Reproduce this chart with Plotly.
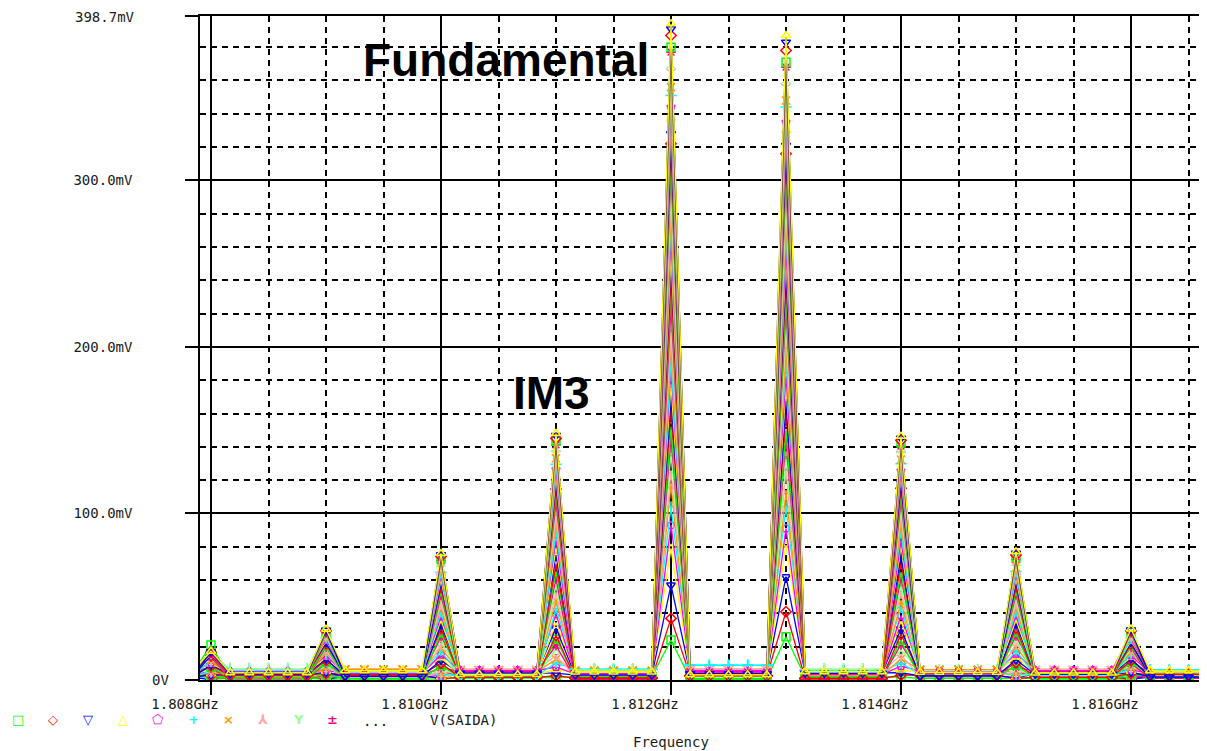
import plotly.graph_objects as go

# ---------------- data (values in mV / MHz) ----------------
PEAK_FREQ_MHZ = [1808, 1809, 1810, 1811, 1812, 1813, 1814, 1815, 1816]
BINS_PER_MHZ = 6  # FFT resolution: 1/6 MHz

# peak amplitude of each of the 44 swept traces at each tone (mV)
AMP_1808 = [0.2, 0.3, 0.4, 0.5, 0.7, 0.9, 1.1, 1.4, 1.7, 2.0,
            2.4, 2.8, 3.2, 3.7, 4.2, 4.7, 5.3, 5.9, 6.5, 7.1,
            7.8, 8.5, 9.1, 9.8, 10.5, 11.2, 11.8, 12.5, 13.1, 13.8,
            14.9, 14.6, 15.0, 15.3, 15.6, 15.8, 16.0, 16.1, 16.3, 16.4,
            21.0, 16.6, 16.9, 17.3]
AMP_1809 = [0.3, 0.4, 0.6, 0.8, 1.1, 1.3, 1.7, 2.0, 2.5, 2.9,
            3.3, 4.1, 4.5, 5.3, 5.8, 6.7, 7.3, 8.3, 8.9, 10.0,
            10.7, 11.8, 12.6, 13.7, 14.5, 15.7, 16.5, 17.7, 18.5, 19.7,
            20.4, 21.7, 22.4, 23.5, 24.2, 25.3, 25.9, 26.9, 27.4, 28.3,
            28.7, 29.5, 29.8, 30.5]
AMP_1810 = [0.5, 0.8, 1.2, 1.8, 2.5, 3.2, 4.1, 5.0, 6.2, 7.4,
            8.7, 10.1, 11.8, 13.4, 15.2, 17.3, 19.2, 21.5, 23.6, 26.1,
            28.3, 30.9, 33.2, 35.8, 38.4, 40.7, 43.5, 45.8, 48.6, 50.9,
            53.5, 55.7, 58.2, 60.3, 62.6, 64.5, 66.7, 68.3, 70.2, 71.6,
            73.0, 74.2, 75.2, 76.0]
AMP_1811 = [1.5, 2.6, 4.1, 6.3, 7.8, 10.2, 12.5, 14.6, 18.3, 20.7,
            24.4, 26.8, 31.2, 34.6, 39.5, 42.8, 47.6, 51.9, 56.3, 60.8,
            65.4, 69.7, 75.2, 79.6, 84.3, 88.7, 94.1, 97.8, 103.2, 106.5,
            111.4, 114.7, 119.3, 122.5, 126.4, 129.6, 133.2, 135.8, 138.9, 141.2,
            143.4, 145.1, 146.8, 148.0]
AMP_1812 = [24, 37, 57, 79, 93, 104, 117, 125, 136, 146,
            152, 163, 170, 178, 187, 192, 203, 208, 219, 224,
            235, 240, 251, 256, 266, 274, 280, 291, 296, 307,
            312, 322, 328, 337, 344, 351, 356, 365, 369, 377,
            380, 387, 391, 394]
AMP_1813 = [26, 41, 62, 81, 91, 104, 113, 125, 132, 144,
            150, 161, 167, 177, 183, 192, 198, 208, 214, 223,
            229, 239, 245, 254, 260, 270, 276, 285, 291, 301,
            306, 316, 321, 330, 335, 344, 348, 356, 360, 368,
            371, 378, 383, 387]
AMP_1814 = [1.8, 2.9, 4.4, 6.0, 8.3, 9.9, 12.8, 15.1, 17.6, 21.4,
            23.8, 27.5, 30.6, 35.3, 38.7, 43.6, 46.9, 52.4, 55.7, 61.5,
            64.8, 70.3, 74.6, 80.2, 83.7, 89.1, 93.5, 98.4, 102.3, 107.1,
            110.6, 115.2, 118.4, 122.9, 125.6, 129.8, 132.4, 135.6, 138.1, 140.5,
            142.3, 144.0, 145.2, 146.3]
AMP_1815 = [0.6, 0.9, 1.4, 1.9, 2.7, 3.4, 4.3, 5.3, 6.4, 7.7,
            9.0, 10.5, 12.1, 13.8, 15.7, 17.6, 19.7, 21.8, 24.1, 26.4,
            28.8, 31.2, 33.7, 36.1, 38.6, 41.2, 43.7, 46.2, 48.8, 51.3,
            53.7, 56.1, 58.5, 60.8, 63.0, 65.1, 67.2, 69.0, 70.8, 72.3,
            73.8, 75.0, 76.1, 77.0]
AMP_1816 = [0.3, 0.5, 0.6, 0.9, 1.0, 1.4, 1.6, 2.1, 2.4, 3.0,
            3.4, 4.0, 4.7, 5.2, 6.0, 6.6, 7.5, 8.2, 9.1, 9.9,
            10.9, 11.7, 12.8, 13.6, 14.7, 15.6, 16.7, 17.6, 18.7, 19.6,
            20.7, 21.6, 22.6, 23.4, 24.4, 25.2, 26.1, 26.8, 27.6, 28.2,
            28.9, 29.4, 30.0, 30.6]

# noise-floor level (mV) of each trace colour in each gap between tones
FLOOR_GREEN = [3.5, 1.2, 0.8, 1.5, 2.0, 0.6, 1.8, 1.0, 0.9, 2.2]
FLOOR_RED = [2.0, 2.8, 3.2, 1.6, 1.1, 2.5, 0.9, 2.9, 1.7, 3.4]
FLOOR_BLUE = [1.4, 3.6, 2.2, 4.1, 2.9, 3.8, 4.0, 2.4, 3.5, 1.8]
FLOOR_YELLOW = [5.2, 4.3, 5.6, 3.3, 4.8, 3.1, 5.0, 4.6, 4.2, 5.5]
FLOOR_MAGENTA = [4.4, 5.1, 3.8, 5.7, 3.6, 5.4, 3.4, 5.3, 5.8, 4.1]
FLOOR_CYAN = [2.7, 5.8, 4.6, 2.6, 6.4, 8.8, 5.7, 3.5, 2.8, 6.0]
FLOOR_ORANGE = [6.0, 2.0, 6.3, 4.9, 5.5, 4.4, 2.6, 6.1, 4.9, 3.9]
FLOOR_PINK = [4.8, 3.9, 1.6, 6.4, 2.4, 6.6, 4.7, 1.9, 6.4, 2.9]
FLOOR_LTGREEN = [3.1, 6.5, 4.9, 3.0, 6.0, 1.9, 6.3, 5.6, 2.3, 4.8]
FLOOR_DEEPPINK = [5.7, 0.9, 2.7, 5.0, 0.7, 4.7, 1.4, 4.1, 5.2, 1.2]

X_TICK_VALS = [1808, 1810, 1812, 1814, 1816]
X_TICK_TEXT = ["1.808GHz", "1.810GHz", "1.812GHz", "1.814GHz", "1.816GHz"]
Y_TICK_VALS = [0, 100, 200, 300, 398.7]
Y_TICK_TEXT = ["0V", "100.0mV", "200.0mV", "300.0mV", "398.7mV"]
LEGEND_SYMBOL_TEXT = ["\u25a1", "\u25c7", "\u25bd", "\u25b3", "\u2b20", "+", "\u00d7", "\u2144", "Y", "\u00b1"]

# ---------------- styling ----------------
COLORS = ["#00ff00", "#ff0000", "#0000ff", "#ffff00", "#ff00ff",
          "#00ffff", "#ff9900", "#ffaaaa", "#99ff99", "#ff0088"]
SYMBOLS = ["square-open", "diamond-open", "triangle-down-open", "triangle-up-open",
           "pentagon-open", "cross-thin-open", "x-thin-open", "y-down-open",
           "y-up-open", "asterisk-open"]
FLOORS = [FLOOR_GREEN, FLOOR_RED, FLOOR_BLUE, FLOOR_YELLOW, FLOOR_MAGENTA,
          FLOOR_CYAN, FLOOR_ORANGE, FLOOR_PINK, FLOOR_LTGREEN, FLOOR_DEEPPINK]
PEAK_AMPS = [AMP_1808, AMP_1809, AMP_1810, AMP_1811, AMP_1812,
             AMP_1813, AMP_1814, AMP_1815, AMP_1816]

N_TRACES = len(AMP_1812)

# the page body has an 8px margin: work in screen pixels, shift by OFF
OFF = 8
W, H = 1207, 751
PLOT_L, PLOT_R, PLOT_T, PLOT_B = 200, 1203, 16, 680   # screen px of plot area
L = PLOT_L - OFF
T = PLOT_T - OFF
R = (W + OFF) - PLOT_R
B = (H + OFF) - PLOT_B
PW, PH = PLOT_R - PLOT_L, PLOT_B - PLOT_T
PX_PER_MHZ = 115.0
X_1808_PX = 211


def px_x(p):
    return (p - PLOT_L) / PW


def px_y(p):
    return (PLOT_B - p) / PH


fig = go.Figure()
n_bins = (len(PEAK_FREQ_MHZ) - 1) * BINS_PER_MHZ
for i in range(N_TRACES):
    xs, ys = [], []
    floor = FLOORS[i % 10]
    for k in range(-1, n_bins + 5):
        xs.append(PEAK_FREQ_MHZ[0] + k / BINS_PER_MHZ)
        if k % BINS_PER_MHZ == 0 and 0 <= k <= n_bins:
            ys.append(PEAK_AMPS[k // BINS_PER_MHZ][i])
        else:
            ys.append(floor[k // BINS_PER_MHZ + 1])
    c = COLORS[i % 10]
    fig.add_trace(go.Scatter(
        x=xs, y=ys, mode="lines+markers", showlegend=False, hoverinfo="skip",
        line=dict(color=c, width=1.3),
        marker=dict(symbol=SYMBOLS[i % 10], size=8, color=c, line=dict(color=c, width=1.5)),
    ))

label_font = dict(family="DejaVu Sans Mono", size=14, color="#1a1a1a")
grid_dash = "6px,5px"

fig.update_xaxes(
    range=[1808 - (X_1808_PX - PLOT_L) / PX_PER_MHZ, 1808 + (PLOT_R - X_1808_PX) / PX_PER_MHZ],
    tickmode="array", tickvals=X_TICK_VALS, ticktext=X_TICK_TEXT,
    ticks="outside", ticklen=13, tickwidth=1.5, tickcolor="black",
    ticklabelshift=-26, ticklabelstandoff=-3,
    tickfont=label_font,
    showgrid=True, gridcolor="black", gridwidth=1.5,
    minor=dict(dtick=0.5, tick0=1808, showgrid=True, gridcolor="black",
               gridwidth=1.5, griddash=grid_dash),
    showline=True, linecolor="black", linewidth=1.5, mirror=True,
    zeroline=False, fixedrange=True,
)
fig.update_yaxes(
    range=[0, 398.7],
    tickmode="array", tickvals=Y_TICK_VALS, ticktext=[""] + Y_TICK_TEXT[1:4] + [""],
    ticks="outside", ticklen=13, tickwidth=1.5, tickcolor="black",
    ticklabelstandoff=50, tickfont=label_font,
    showgrid=True, gridcolor="black", gridwidth=1.5,
    minor=dict(dtick=20, tick0=0, showgrid=True, gridcolor="black",
               gridwidth=1.5, griddash=grid_dash),
    showline=True, linecolor="black", linewidth=1.5, mirror=True,
    zeroline=False, fixedrange=True,
)

annotations = [
    dict(text=Y_TICK_TEXT[0], xref="paper", yref="y", x=px_x(171), y=Y_TICK_VALS[0],
         xanchor="right", yanchor="middle", showarrow=False, font=label_font),
    dict(text=Y_TICK_TEXT[4], xref="paper", yref="paper", x=px_x(137), y=px_y(17),
         xanchor="right", yanchor="middle", showarrow=False, font=label_font),
    dict(text="<b>Fundamental</b>", xref="paper", yref="paper",
         x=px_x(506), y=px_y(60), xanchor="center", yanchor="middle", showarrow=False,
         font=dict(family="Liberation Sans, Arial", size=46, color="black")),
    dict(text="<b>IM3</b>", xref="paper", yref="paper",
         x=px_x(551), y=px_y(393), xanchor="center", yanchor="middle", showarrow=False,
         font=dict(family="Liberation Sans, Arial", size=46, color="black")),
    dict(text="Frequency", xref="paper", yref="paper",
         x=px_x(671), y=px_y(742), xanchor="center", yanchor="middle", showarrow=False,
         font=label_font),
    dict(text="...", xref="paper", yref="paper",
         x=px_x(375), y=px_y(721), xanchor="center", yanchor="middle", showarrow=False,
         font=label_font),
    dict(text="V(SAIDA)", xref="paper", yref="paper",
         x=px_x(463), y=px_y(720), xanchor="center", yanchor="middle", showarrow=False,
         font=label_font),
]
LEGEND_PX = [18, 53, 88, 123, 158, 193, 228, 263, 298, 332]
for j, sym in enumerate(LEGEND_SYMBOL_TEXT):
    annotations.append(dict(
        text="<b>" + sym + "</b>", xref="paper", yref="paper",
        x=px_x(LEGEND_PX[j]), y=px_y(719), xanchor="center", yanchor="middle",
        showarrow=False, font=dict(family="DejaVu Sans", size=13, color=COLORS[j])))

fig.update_layout(
    width=W, height=H,
    margin=dict(l=L, r=R, t=T, b=B, autoexpand=False),
    paper_bgcolor="white", plot_bgcolor="white",
    annotations=annotations,
    showlegend=False,
)

fig.write_html("out.html")
